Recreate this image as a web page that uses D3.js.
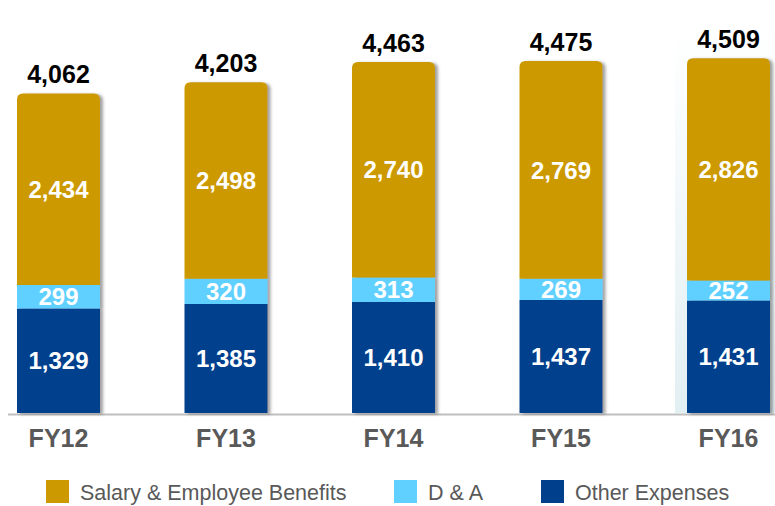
<!DOCTYPE html>
<html>
<head>
<meta charset="utf-8">
<script src="https://cdn.jsdelivr.net/npm/d3@7"></script>
<style>
  body { margin: 0; background: #fff; }
  text { font-family: Arial, "Liberation Sans", sans-serif; }
</style>
</head>
<body>
<div id="chart"></div>
<script>
var years = ["FY12", "FY13", "FY14", "FY15", "FY16"];
var otherExpenses = [1329, 1385, 1410, 1437, 1431];
var depAmort = [299, 320, 313, 269, 252];
var salary = [2434, 2498, 2740, 2769, 2826];
var totals = [4062, 4203, 4463, 4475, 4509];

var seriesNames = ["Other Expenses", "D & A", "Salary & Employee Benefits"];
var seriesColors = ["#003f8c", "#5fd0ff", "#cc9900"];
var legendOrder = [2, 1, 0];

var width = 775, height = 506;
var baseline = 413;

var svg = d3.select("#chart")
  .append("svg")
  .attr("width", width)
  .attr("height", height);

var defs = svg.append("defs");
var shadow = defs.append("filter")
  .attr("id", "shadow")
  .attr("x", "-10%").attr("y", "-10%")
  .attr("width", "130%").attr("height", "120%");
shadow.append("feDropShadow")
  .attr("dx", 3).attr("dy", 1)
  .attr("stdDeviation", 1.5)
  .attr("flood-color", "#555")
  .attr("flood-opacity", 0.55);

var grad = defs.append("linearGradient")
  .attr("id", "hl")
  .attr("x1", 0).attr("y1", 0).attr("x2", 0).attr("y2", 1);
grad.append("stop").attr("offset", "0%").attr("stop-color", "#ffffff");
grad.append("stop").attr("offset", "100%").attr("stop-color", "#e2eff3");

var data = years.map(function (y, i) {
  return { year: y, "Other Expenses": otherExpenses[i], "D & A": depAmort[i],
    "Salary & Employee Benefits": salary[i], total: totals[i] };
});

var x = d3.scalePoint()
  .domain(years)
  .range([58.5, 728.5]);
var barW = 83;

var y = d3.scaleLinear()
  .domain([0, 5250])
  .range([baseline, 0]);

var stacked = d3.stack().keys(seriesNames)(data);

// highlight panel behind last year
svg.append("rect")
  .attr("x", x("FY16") - barW / 2 - 12)
  .attr("y", 28)
  .attr("width", width - (x("FY16") - barW / 2 - 12))
  .attr("height", baseline - 28)
  .attr("fill", "url(#hl)");

// axis line
svg.append("line")
  .attr("x1", 8).attr("x2", width)
  .attr("y1", baseline + 1.5).attr("y2", baseline + 1.5)
  .attr("stroke", "#bfbfbf")
  .attr("stroke-width", 2);

function roundTop(x0, y0, w, h, r) {
  return "M" + x0 + "," + (y0 + h) +
    "V" + (y0 + r) +
    "Q" + x0 + "," + y0 + " " + (x0 + r) + "," + y0 +
    "H" + (x0 + w - r) +
    "Q" + (x0 + w) + "," + y0 + " " + (x0 + w) + "," + (y0 + r) +
    "V" + (y0 + h) + "Z";
}

var bars = svg.append("g").attr("filter", "url(#shadow)");

stacked.forEach(function (layer, li) {
  bars.selectAll(null)
    .data(layer)
    .enter().append("path")
    .attr("fill", seriesColors[li])
    .attr("d", function (d) {
      var x0 = x(d.data.year) - barW / 2;
      var top = y(d[1]), h = y(d[0]) - y(d[1]);
      if (li === stacked.length - 1) return roundTop(x0, top, barW, h, 6);
      return "M" + x0 + "," + top + "h" + barW + "v" + h + "h" + (-barW) + "Z";
    });
});

// segment labels
stacked.forEach(function (layer) {
  svg.selectAll(null)
    .data(layer)
    .enter().append("text")
    .attr("x", function (d) { return x(d.data.year); })
    .attr("y", function (d) { return (y(d[0]) + y(d[1])) / 2; })
    .attr("dy", "0.36em")
    .attr("text-anchor", "middle")
    .attr("fill", "#fff")
    .attr("font-weight", "bold")
    .attr("font-size", 24)
    .text(function (d) { return d3.format(",")(d[1] - d[0]); });
});

// totals
svg.selectAll(".total")
  .data(data)
  .enter().append("text")
  .attr("class", "total")
  .attr("x", function (d) { return x(d.year); })
  .attr("y", function (d) { return y(d.total) - 10; })
  .attr("text-anchor", "middle")
  .attr("fill", "#000")
  .attr("font-weight", "bold")
  .attr("font-size", 25)
  .text(function (d) { return d3.format(",")(d.total); });

// category labels
svg.selectAll(".cat")
  .data(years)
  .enter().append("text")
  .attr("class", "cat")
  .attr("x", function (d) { return x(d); })
  .attr("y", 447)
  .attr("text-anchor", "middle")
  .attr("fill", "#595959")
  .attr("font-weight", "bold")
  .attr("font-size", 25)
  .text(function (d) { return d; });

// legend
var legendX = [46, 394, 541];
var legend = svg.selectAll(".leg")
  .data(legendOrder)
  .enter().append("g")
  .attr("class", "leg")
  .attr("transform", function (d, i) { return "translate(" + legendX[i] + ",480)"; });
legend.append("rect")
  .attr("width", 23).attr("height", 23)
  .attr("fill", function (d) { return seriesColors[d]; });
legend.append("text")
  .attr("x", 34).attr("y", 20)
  .attr("fill", "#595959")
  .attr("font-size", 21.5)
  .text(function (d) { return seriesNames[d]; });
</script>
</body>
</html>
